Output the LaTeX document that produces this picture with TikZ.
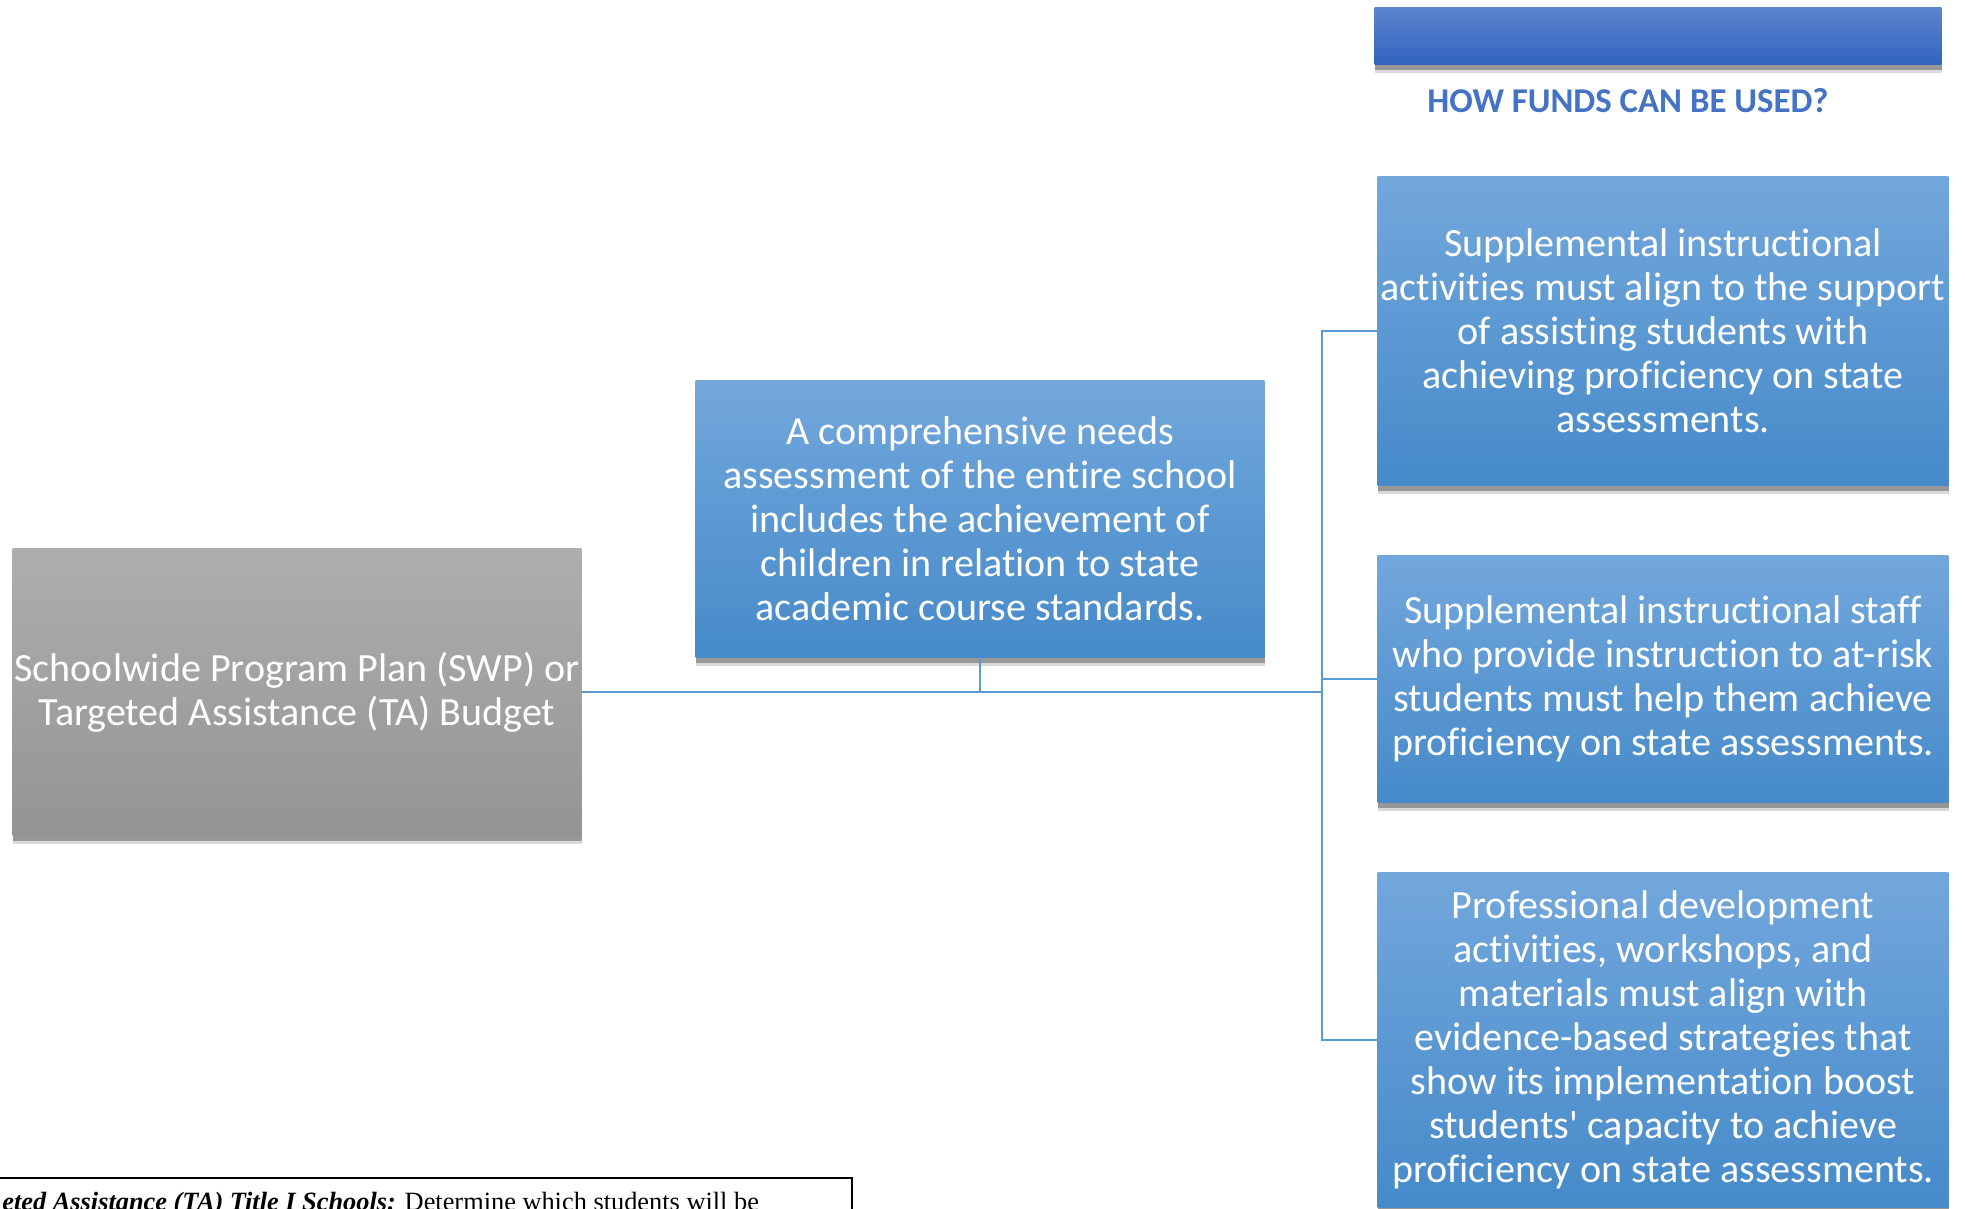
\documentclass[tikz,border=0pt]{standalone}
\usepackage{fontspec}
\setmainfont{Carlito}[Ligatures={NoCommon}]
\newfontfamily\timesfont{Liberation Serif}
\usetikzlibrary{shadows}

\definecolor{boxtop}{RGB}{114,167,220}
\definecolor{boxbot}{RGB}{70,138,201}
\definecolor{planTop}{RGB}{174,174,174}
\definecolor{planBot}{RGB}{148,148,148}
\definecolor{barTop}{RGB}{92,132,206}
\definecolor{barBot}{RGB}{50,100,190}
\definecolor{titleblue}{RGB}{68,114,196}
\definecolor{linkblue}{RGB}{91,155,213}

\begin{document}
\begin{tikzpicture}[x=0.02cm, y=-0.02cm,
	boxtext/.style={text=white, font=\fontsize{22.8}{25}\selectfont, align=center, inner sep=0pt},
	boxshadow/.style={drop shadow={shadow xshift=0.5pt, shadow yshift=-5pt, fill=black, opacity=0.15},
		drop shadow={shadow xshift=0.5pt, shadow yshift=-3pt, fill=black, opacity=0.3}},
	fundbox/.style={boxtext, boxshadow, rectangle, minimum width=11.42cm, top color=boxtop, bottom color=boxbot},
	planbox/.style={boxtext, boxshadow, rectangle, minimum width=11.38cm, top color=planTop, bottom color=planBot},
	link/.style={draw=linkblue, line width=1.1pt}]
	
	\clip (0,0) rectangle (1965,1209);
	
	% header bar and heading
	\node at (1658,36) [boxshadow, rectangle, minimum width=11.34cm, minimum height=1.13cm, top color=barTop, bottom color=barBot] (bar) {};
	\node at (1628,101) [text=titleblue, font=\fontsize{19.8}{22}\selectfont\bfseries, inner sep=0pt] (title) {HOW FUNDS CAN BE USED?};
	
	% main boxes
	\node at (297,692) [planbox, minimum height=5.74cm] (plan) {Schoolwide Program Plan (SWP) or\\Targeted Assistance (TA) Budget};
	\node at (980,519) [planbox, top color=boxtop, bottom color=boxbot, minimum height=5.54cm] (needs) {A comprehensive needs\\assessment of the entire school\\includes the achievement of\\children in relation to state\\academic course standards.};
	
	\node at (1663,331) [fundbox, minimum height=6.18cm] (act) {Supplemental instructional\\activities must align to the support\\of assisting students with\\achieving proficiency on state\\assessments.};
	\node at (1663,679) [fundbox, minimum height=4.94cm] (staff) {Supplemental instructional staff\\who provide instruction to at-risk\\students must help them achieve\\proficiency on state assessments.};
	\node at (1663,1040) [fundbox, minimum height=6.7cm] (prof) {Professional development\\activities, workshops, and\\materials must align with\\evidence-based strategies that\\show its implementation boost\\students\textquotesingle\ capacity to achieve\\proficiency on state assessments.};
	
	% connectors
	\coordinate (trunk) at (1322,692);
	\draw [link] (plan.east) -- (trunk);
	\draw [link] (needs.south) -- (needs.south |- trunk);
	\draw [link] (act.west) -| (trunk) |- (prof.west);
	\draw [link] (staff.west) -- (staff.west -| trunk);
	
	% cut-off text box at the bottom
	\draw [line width=1.1pt] (-10,1178) -| (852,1230);
	\node at (2,1210) [anchor=base west, inner sep=0pt, font=\timesfont\fontsize{15}{17}\selectfont] (ta) {\textbf{\textit{eted Assistance (TA) Title I Schools:}} Determine which students will be};
	
\end{tikzpicture}
\end{document}
